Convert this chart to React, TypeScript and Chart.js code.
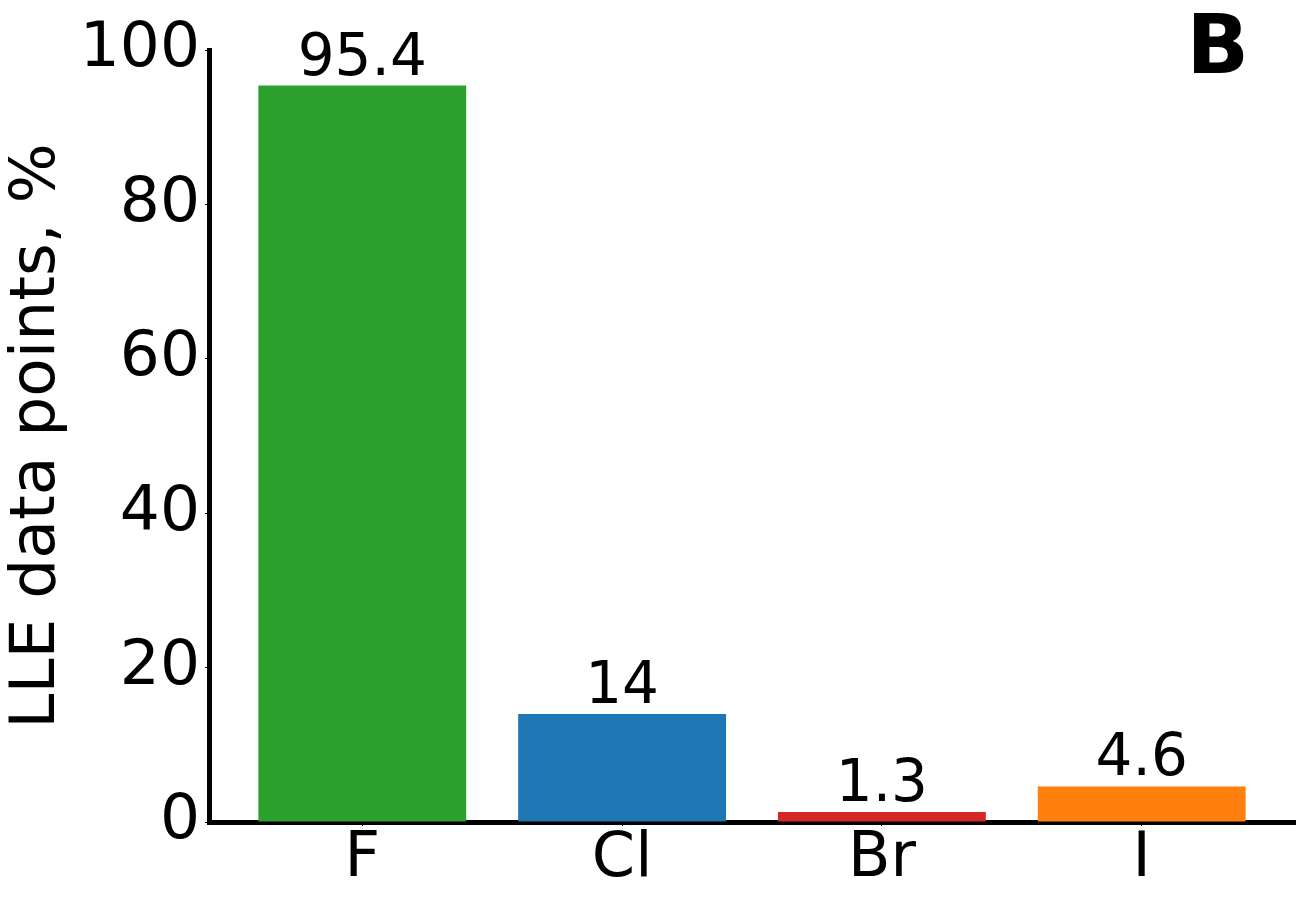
import React, { useEffect, useRef } from "react";
import { Chart, registerables } from "chart.js";

Chart.register(...registerables);

const categories = ["F", "Cl", "Br", "I"];
const values = [95.4, 14, 1.3, 4.6];
const valueLabels = ["95.4", "14", "1.3", "4.6"];
const barColors = ["#2ca02c", "#1f77b4", "#d62728", "#ff7f0e"];
const yTicks = [0, 20, 40, 60, 80, 100];
const yTitle = "LLE data points, %";
const panelLetter = "B";

const FONT = "'DejaVu Sans', sans-serif";

const valueLabelPlugin = {
  id: "valueLabels",
  afterDatasetsDraw(chart: any) {
    const ctx = chart.ctx;
    const meta = chart.getDatasetMeta(0);
    ctx.save();
    ctx.fillStyle = "#000";
    ctx.font = `58px ${FONT}`;
    ctx.textAlign = "center";
    ctx.textBaseline = "alphabetic";
    meta.data.forEach((el: any, i: number) => {
      ctx.fillText(valueLabels[i], el.x, el.y - 11);
    });
    ctx.restore();
  },
};

const letterPlugin = {
  id: "panelLetter",
  afterDraw(chart: any) {
    const ctx = chart.ctx;
    const area = chart.chartArea;
    ctx.save();
    ctx.fillStyle = "#000";
    ctx.font = `bold 82px ${FONT}`;
    ctx.textAlign = "right";
    ctx.textBaseline = "alphabetic";
    ctx.fillText(panelLetter, area.right - 46, area.top + 23);
    ctx.restore();
  },
};

export default function App() {
  const canvasRef = useRef<HTMLCanvasElement | null>(null);

  useEffect(() => {
    if (!canvasRef.current) return;
    const chart = new Chart(canvasRef.current, {
      type: "bar",
      data: {
        datasets: [
          {
            data: values.map((v, i) => ({ x: i, y: v })),
            backgroundColor: barColors,
            borderWidth: 0,
            categoryPercentage: 0.8,
            barPercentage: 1.0,
          },
        ],
      },
      options: {
        animation: false,
        responsive: false,
        layout: { padding: { top: 50, right: 9, left: 0, bottom: 0 } },
        plugins: {
          legend: { display: false },
          tooltip: { enabled: false },
          title: { display: false },
        },
        scales: {
          x: {
            type: "linear",
            min: -0.59,
            max: 3.59,
            offset: false,
            afterBuildTicks: (scale: any) => {
              scale.ticks = categories.map((_, i) => ({ value: i }));
            },
            afterFit: (scale: any) => {
              scale.height = 82;
            },
            grid: {
              display: true,
              offset: false,
              drawOnChartArea: false,
              drawTicks: true,
              tickLength: 4,
              color: "#000",
              lineWidth: 1,
            },
            border: { display: true, color: "#000", width: 5 },
            ticks: {
              color: "#000",
              font: { family: FONT, size: 62 },
              padding: -3,
              maxRotation: 0,
              autoSkip: false,
              callback: (value: any) => categories[Math.round(Number(value))] ?? "",
            },
          },
          y: {
            type: "linear",
            min: 0,
            max: 100,
            afterBuildTicks: (scale: any) => {
              scale.ticks = yTicks.map((v) => ({ value: v }));
            },
            afterFit: (scale: any) => {
              scale.width = 209;
            },
            grid: {
              display: true,
              offset: false,
              drawOnChartArea: false,
              drawTicks: true,
              tickLength: 4,
              color: "#000",
              lineWidth: 1,
            },
            border: { display: true, color: "#000", width: 5 },
            ticks: {
              color: "#000",
              font: { family: FONT, size: 63 },
              padding: 5,
              autoSkip: false,
            },
            title: {
              display: true,
              text: yTitle,
              color: "#000",
              font: { family: FONT, size: 63 },
              padding: 0,
            },
          },
        },
      } as any,
      plugins: [valueLabelPlugin, letterPlugin],
    });
    return () => chart.destroy();
  }, []);

  return (
    <div
      style={{
        position: "fixed",
        left: 0,
        top: 0,
        width: 1304,
        height: 904,
        background: "#fff",
      }}
    >
      <canvas ref={canvasRef} width={1304} height={904} />
    </div>
  );
}
